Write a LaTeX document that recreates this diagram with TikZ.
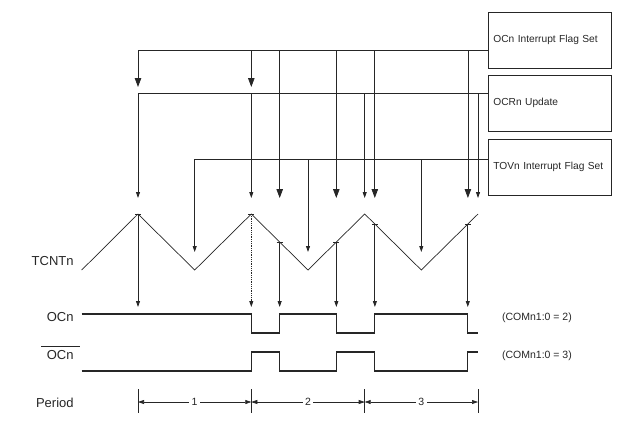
\documentclass[tikz,border=0pt]{standalone}
\usepackage{fontspec}
\setmainfont{Liberation Sans}
\usetikzlibrary{arrows.meta,calc}
\tikzset{
  flagbox/.style={draw, minimum width=123pt, minimum height=56pt, text width=118pt,
    inner xsep=2.5pt, align=left, font=\fontsize{10.2}{12}\selectfont},
  bigtip/.style={-{Triangle[length=9pt,width=6.5pt]}},
  smalltip/.style={-{Triangle[length=6pt,width=4pt]}},
  sig/.style={line width=1.1pt},
  lbl/.style={anchor=east, inner sep=0pt, font=\fontsize{13}{15}\selectfont},
  note/.style={anchor=west, inner sep=0pt, font=\fontsize{10.5}{12}\selectfont}
}
\begin{document}
\begin{tikzpicture}[x=1pt, y=-1pt, line width=0.8pt, color=black!85]
  \useasboundingbox (0,0) rectangle (628,421);
  % event boxes
  \node[flagbox] (ocf) at (549.4,40.3) {\hspace*{3pt}OCn Interrupt Flag Set};
  \node[flagbox] (ocr) at (549.4,103) {\hspace*{3pt}OCRn Update};
  \node[flagbox] (tov) at (549.4,167) {\hspace*{3pt}TOVn Interrupt Flag Set};
  % buses
  \coordinate (ba) at (138,50.7);
  \coordinate (bb) at (138,93.5);
  \coordinate (bc) at (194.7,159.3);
  \draw (ocf.west |- ba) -- (ba);
  \draw (ocr.west |- bb) -- (bb);
  \draw (tov.west |- bc) -- (bc);
  \foreach \x/\e [count=\i] in {138/87,251.3/87,279.7/198,336.3/198,374.8/198,467.9/198} {
    \coordinate (as\i) at (\x,50.7); \coordinate (ae\i) at (\x,\e);
    \draw[bigtip] (as\i) -- (ae\i);}
  \foreach \x [count=\i] in {138,251.3,364.7,478} {
    \coordinate (rs\i) at (\x,93.5); \coordinate (re\i) at (\x,198);
    \draw[smalltip] (rs\i) -- (re\i);}
  \foreach \x [count=\i] in {194.7,308,421.3} {
    \coordinate (vs\i) at (\x,159.3); \coordinate (ve\i) at (\x,252);
    \draw[smalltip] (vs\i) -- (ve\i);}
  % counter
  \coordinate (w0) at (81.7,270);
  \foreach \x [count=\i] in {138,251.3,364.7,478} \coordinate (p\i) at (\x,214);
  \foreach \x [count=\i] in {194.7,308,421.3} \coordinate (t\i) at (\x,270);
  \coordinate (k1) at ($(p2)!0.5!(t2)$);
  \coordinate (k2) at ($(t2)!0.5!(p3)$);
  \coordinate (k3) at ($(p3)!0.18!(t3)$);
  \coordinate (k4) at ($(p4)!0.18!(t3)$);
  \draw[line width=0.7pt] (w0) -- (p1) -- (t1) -- (p2) -- (t2) -- (p3) -- (t3) -- (p4);
  \coordinate (oa) at (0,307);
  \foreach \n in {p1,p2,k1,k2,k3,k4} \draw ([xshift=-3pt]\n) -- ([xshift=3pt]\n);
  \foreach \n in {p1,k1,k2,k3,k4} \draw[smalltip] (\n) -- (\n |- oa);
  \draw[smalltip, densely dotted] (p2) -- (p2 |- oa);
  % outputs
  \draw[sig] (81.7,314) -| (251.3,333) -| (279.7,314) -| (336.3,333) -| (374.8,314) -| (467.9,333) -- (478,333);
  \draw[sig] (81.7,371) -| (251.3,352) -| (279.7,371) -| (336.3,352) -| (374.8,371) -| (467.9,352) -- (478,352);
  \node[lbl] (ltc) at (74,260.7) {TCNTn};
  \node[lbl] (loc) at (74,317) {OCn};
  \node[lbl] (locb) at (74,355) {OCn};
  \draw ([xshift=-5pt,yshift=3.5pt]locb.north west) -- ([xshift=6pt,yshift=3.5pt]locb.north east);
  \node[lbl] (lper) at (74,402.7) {Period};
  \node[note] (com2) at (501.7,317.7) {(COMn1:0 = 2)};
  \node[note] (com3) at (501.7,355.7) {(COMn1:0 = 3)};
  % periods
  \foreach \x [count=\i] in {138,251.3,364.7,478} {
    \coordinate (ut\i) at (\x,389); \coordinate (ub\i) at (\x,413); \coordinate (m\i) at (\x,402);
    \draw (ut\i) -- (ub\i);}
  \foreach \i/\j in {1/2,2/3,3/4}
    \draw[line width=0.6pt, {Triangle[length=6pt,width=4pt]}-{Triangle[length=6pt,width=4pt]}]
      (m\i) -- node[fill=white, inner sep=2.5pt, font=\fontsize{10.5}{12}\selectfont] {\i} (m\j);
\end{tikzpicture}
\end{document}
